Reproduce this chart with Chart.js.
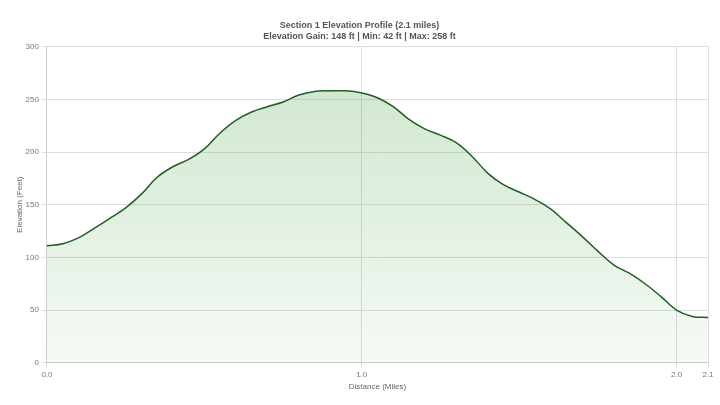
<!DOCTYPE html>
<html>
<head>
<meta charset="utf-8">
<script src="https://cdn.jsdelivr.net/npm/chart.js@4/dist/chart.umd.min.js"></script>
<style>
  html, body { margin: 0; padding: 0; background: #fff; }
  #wrap { width: 720px; height: 405px; }
</style>
</head>
<body>
<div id="wrap"><canvas id="elevChart"></canvas></div>
<script>
// distance along the route (miles) and elevation (feet)
const distances = [0.00,0.05,0.10,0.15,0.20,0.25,0.30,0.35,0.40,0.45,0.50,0.55,0.60,0.65,0.70,0.75,0.80,0.85,0.90,0.95,
                   1.00,1.05,1.10,1.15,1.20,1.25,1.30,1.35,1.40,1.45,1.50,1.55,1.60,1.65,1.70,1.75,1.80,1.85,1.90,1.95,
                   2.00,2.05,2.10];
const elevations = [111,113,118.5,127.5,137,147,160,176,186,193,203,218,230,238,243,247.5,254,257.5,258,258,
                    256,251.5,243,231,222,216,209,196,180,169,162,155,146,133,120,106,93,85,75,63,
                    50,44,43];
const xTicks = [0, 1.0, 2.0, 2.1];

const titleLines = ['Section 1 Elevation Profile (2.1 miles)', 'Elevation Gain: 148 ft | Min: 42 ft | Max: 258 ft'];

const points = distances.map((d, i) => ({ x: d, y: elevations[i] }));

const ctx = document.getElementById('elevChart').getContext('2d');

new Chart(ctx, {
    type: 'line',
    data: {
        datasets: [{
            label: 'Elevation',
            data: points,
            borderColor: '#1f5f1f',
            borderWidth: 1.5,
            pointRadius: 0,
            tension: 0.4,
            fill: 'origin',
            backgroundColor: (c) => {
                const area = c.chart.chartArea;
                if (!area) return 'rgba(60,150,60,0.15)';
                const g = c.chart.ctx.createLinearGradient(0, area.top, 0, area.bottom);
                g.addColorStop(0, 'rgba(70,160,70,0.28)');
                g.addColorStop(1, 'rgba(70,160,70,0.05)');
                return g;
            }
        }]
    },
    options: {
        responsive: true,
        maintainAspectRatio: false,
        animation: false,
        layout: { padding: { left: 11, right: 12, top: 2, bottom: 9 } },
        plugins: {
            legend: { display: false },
            tooltip: { enabled: false },
            title: {
                display: true,
                text: titleLines,
                color: '#555',
                font: { family: 'Liberation Sans', size: 9, weight: 'bold', lineHeight: 1.2 },
                padding: { top: 18, bottom: 5 }
            }
        },
        scales: {
            x: {
                type: 'linear',
                min: 0,
                max: 2.1,
                afterBuildTicks: (axis) => { axis.ticks = xTicks.map(v => ({ value: v })); },
                ticks: {
                    color: '#777',
                    padding: 2,
                    font: { family: 'Liberation Sans', size: 8 },
                    maxRotation: 0,
                    callback: (v) => Number(v).toFixed(1)
                },
                grid: { color: '#ddd', tickLength: 5 },
                border: { color: '#ccc' },
                title: {
                    display: true,
                    text: 'Distance (Miles)',
                    color: '#666',
                    font: { family: 'Liberation Sans', size: 8 },
                    padding: { top: 1 }
                }
            },
            y: {
                min: 0,
                max: 300,
                ticks: {
                    stepSize: 50,
                    color: '#777',
                    font: { family: 'Liberation Sans', size: 8 }
                },
                grid: { color: '#ddd', tickLength: 5 },
                border: { color: '#ccc' },
                title: {
                    display: true,
                    text: 'Elevation (Feet)',
                    color: '#666',
                    font: { family: 'Liberation Sans', size: 8 },
                    padding: { top: 4, bottom: -2 }
                }
            }
        }
    }
});
</script>
</body>
</html>
